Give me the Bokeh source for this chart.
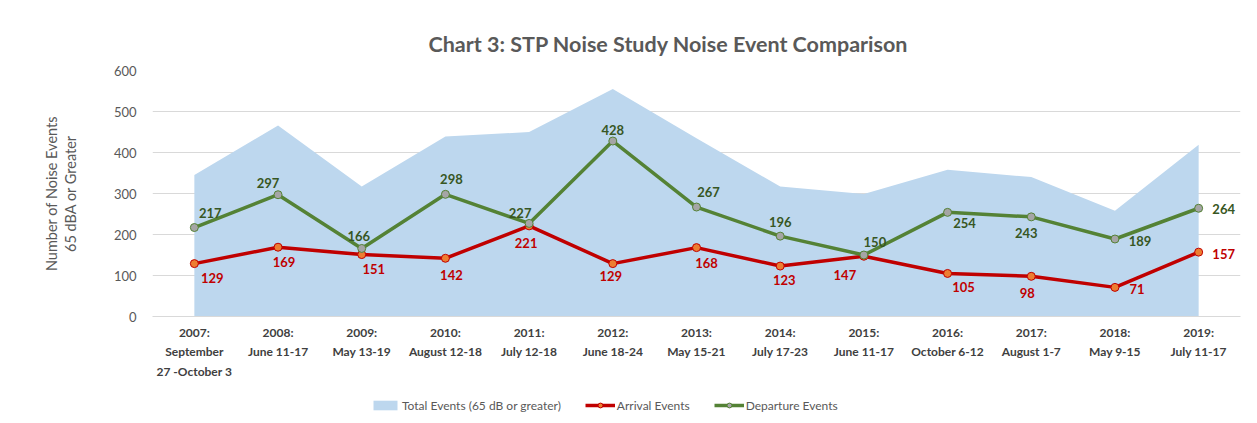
from bokeh.plotting import figure
from bokeh.layouts import column
from bokeh.models import FactorRange, Range1d, Legend, LegendItem, ColumnDataSource, FixedTicker
from bokeh.core.properties import value
from bokeh.embed import file_html
from bokeh.resources import INLINE

categories = [
    "2007:\nSeptember\n27 -October 3", "2008:\nJune 11-17", "2009:\nMay 13-19",
    "2010:\nAugust 12-18", "2011:\nJuly 12-18", "2012:\nJune 18-24",
    "2013:\nMay 15-21", "2014:\nJuly 17-23", "2015:\nJune 11-17",
    "2016:\nOctober 6-12", "2017:\nAugust 1-7", "2018:\nMay 9-15", "2019:\nJuly 11-17",
]
total_events = [345, 466, 317, 439, 450, 555, 435, 317, 299, 358, 340, 258, 419]
arrival_events = [129, 169, 151, 142, 221, 129, 168, 123, 147, 105, 98, 71, 157]
departure_events = [217, 297, 166, 298, 227, 428, 267, 196, 150, 254, 243, 189, 264]
y_ticks = [0, 100, 200, 300, 400, 500, 600]
series_names = ["Total Events (65 dB or greater)", "Arrival Events", "Departure Events"]

# label placement offsets (screen px)
arr_dx = [18, 6, 12, 6, -3, -2, 10, 4, -19, 16, -4, 22, 25]
arr_dy = [14, 15, 14, 17, 17, 12, 15, 14, 19, 14, 17, 2, 2]
dep_dx = [16, -10, -3, 6, -9, 0, 12, 0, 11, 17, -5, 25, 25]
dep_dy = [-15, -12, -12, -15, -10, -11, -15, -14, -13, 11, 16, 2, 1]

FONT = "Lato"
GREY = "#595959"
BLUE = "#BDD7EE"
RED = "#C00000"
ORANGE = "#ED7D31"
GREEN = "#548235"
GREYM = "#A5A5A5"

p = figure(
    width=1250, height=392,
    x_range=FactorRange(factors=categories, range_padding=0),
    y_range=Range1d(0, 600),
    output_backend="svg", toolbar_location=None,
    min_border_left=152, min_border_right=10, min_border_top=70, min_border_bottom=76,
)
p.outline_line_color = None
p.background_fill_color = "white"
p.border_fill_color = "white"

p.title.text = "Chart 3: STP Noise Study Noise Event Comparison"
p.title.text_font = FONT
p.title.text_font_size = "21.5px"
p.title.text_font_style = "bold"
p.title.text_color = GREY
p.title.align = "left"
p.title.offset = 276
p.title.standoff = 27

src = ColumnDataSource(dict(
    x=categories, total=total_events, arr=arrival_events, dep=departure_events,
    arr_txt=[str(v) for v in arrival_events], dep_txt=[str(v) for v in departure_events],
    arr_dx=arr_dx, arr_dy=arr_dy, dep_dx=dep_dx, dep_dy=dep_dy,
))

def draw_series(fig):
    a = fig.varea(x="x", y1=0, y2="total", source=src, fill_color=BLUE, fill_alpha=1)
    al = fig.line(x="x", y="arr", source=src, line_color=RED, line_width=3.5)
    am = fig.scatter(x="x", y="arr", source=src, size=8, fill_color=ORANGE,
                     line_color=RED, line_width=1)
    dl = fig.line(x="x", y="dep", source=src, line_color=GREEN, line_width=3.5)
    dm = fig.scatter(x="x", y="dep", source=src, size=8, fill_color=GREYM,
                     line_color=GREEN, line_width=1)
    return a, (al, am), (dl, dm)

draw_series(p)

p.text(x="x", y="arr", text="arr_txt", source=src, x_offset="arr_dx", y_offset="arr_dy",
       text_align="center", text_baseline="middle", text_font=value(FONT),
       text_font_size="13px", text_font_style="bold", text_color=RED)
p.text(x="x", y="dep", text="dep_txt", source=src, x_offset="dep_dx", y_offset="dep_dy",
       text_align="center", text_baseline="middle", text_font=value(FONT),
       text_font_size="13px", text_font_style="bold", text_color="#375623")

# axes
p.xaxis.axis_line_color = "#D9D9D9"
p.xaxis.major_tick_line_color = None
p.xaxis.minor_tick_line_color = None
p.xaxis.major_tick_out = 0
p.xaxis.major_label_text_font = FONT
p.xaxis.major_label_text_font_size = "12px"
p.xaxis.major_label_text_font_style = "bold"
p.xaxis.major_label_text_color = "#404040"
p.xaxis.major_label_text_line_height = 1.3
p.xaxis.major_label_standoff = 8

p.yaxis.ticker = FixedTicker(ticks=y_ticks)
p.yaxis.axis_line_color = None
p.yaxis.major_tick_line_color = None
p.yaxis.minor_tick_line_color = None
p.yaxis.major_label_text_font = FONT
p.yaxis.major_label_text_font_size = "13px"
p.yaxis.major_label_text_color = GREY
p.yaxis.major_label_standoff = 10
p.yaxis.axis_label = "Number of Noise Events\n65 dBA or Greater"
p.yaxis.axis_label_text_font = FONT
p.yaxis.axis_label_text_font_size = "14.5px"
p.yaxis.axis_label_text_font_style = "normal"
p.yaxis.axis_label_text_color = GREY
p.yaxis.axis_label_text_line_height = 1.1
p.yaxis.axis_label_standoff = 32

p.xgrid.grid_line_color = None
p.ygrid.grid_line_color = "#D9D9D9"
p.ygrid.grid_line_width = 1

# legend strip below the chart (series drawn out of view, only the legend shows)
lg = figure(width=1250, height=30, output_backend="svg", toolbar_location=None,
            x_range=FactorRange(factors=categories, range_padding=0),
            y_range=Range1d(-20, -10),
            x_axis_location=None, y_axis_location=None,
            min_border_left=0, min_border_right=0, min_border_top=0, min_border_bottom=0)
lg.outline_line_color = None
lg.grid.grid_line_color = None
lg_area, lg_arr, lg_dep = draw_series(lg)

legend = Legend(items=[
    LegendItem(label=series_names[0], renderers=[lg_area]),
    LegendItem(label=series_names[1], renderers=list(lg_arr)),
    LegendItem(label=series_names[2], renderers=list(lg_dep)),
], orientation="horizontal", location=(218, 9))
legend.label_text_font = FONT
legend.label_text_font_size = "12px"
legend.label_text_color = GREY
legend.glyph_width = 30
legend.glyph_height = 12
legend.label_height = 16
legend.label_standoff = 2
legend.spacing = 24
legend.padding = 0
legend.margin = 0
legend.border_line_color = None
legend.background_fill_alpha = 0
lg.add_layout(legend, "center")

open("out.html", "w").write(file_html(column(p, lg), INLINE))
